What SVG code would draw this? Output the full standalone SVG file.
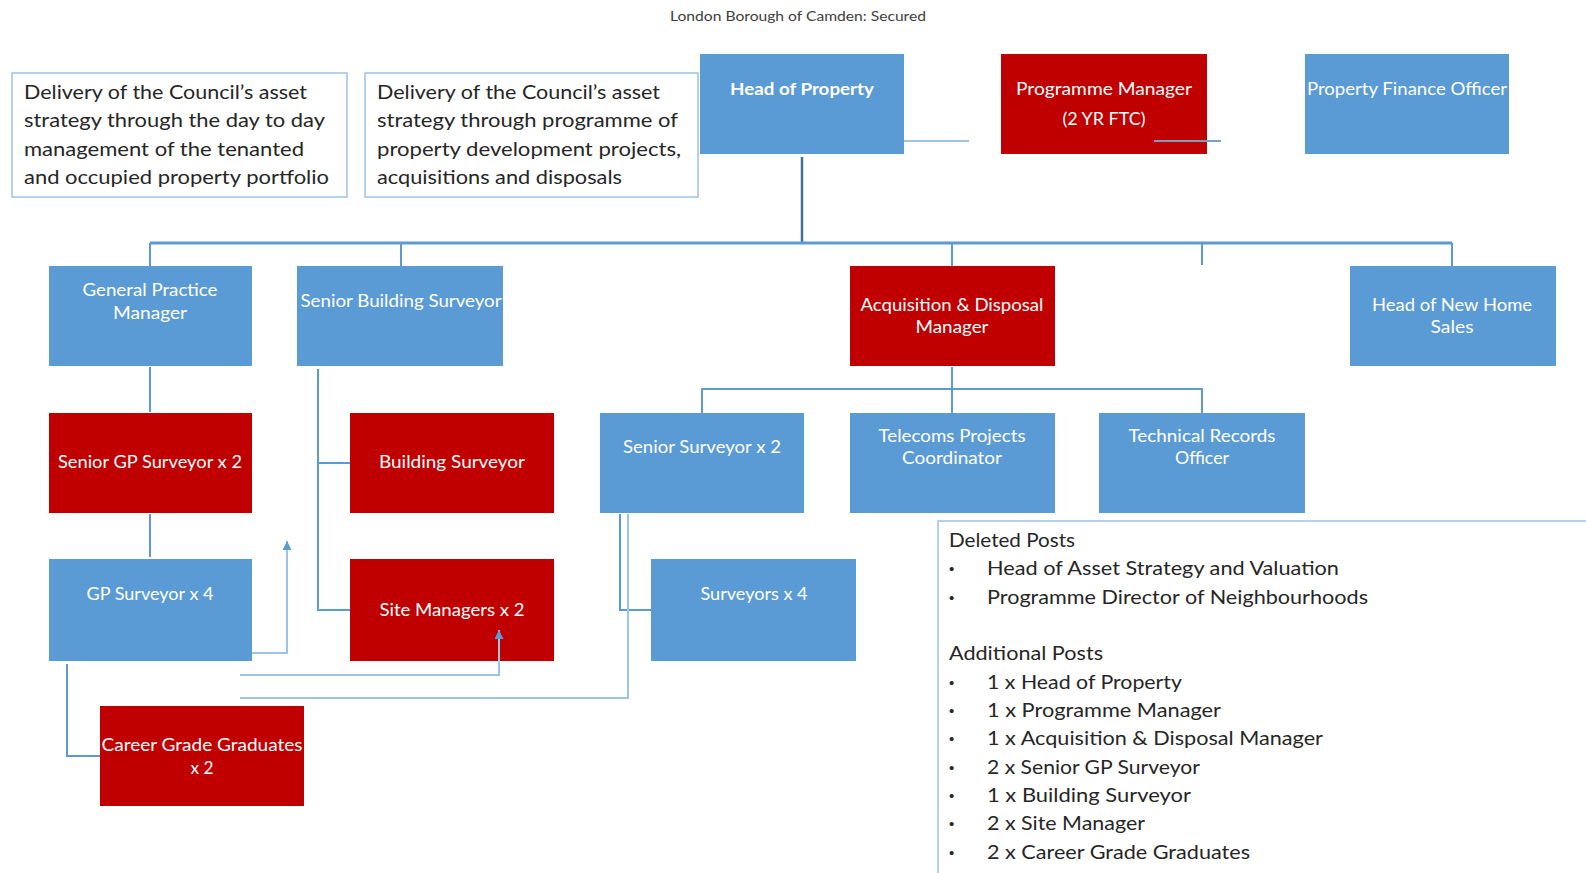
<svg xmlns="http://www.w3.org/2000/svg" width="1586" height="873" viewBox="0 0 1586 873">
<style>
.bl{fill:#5B9BD5}
.rd{fill:#C00000}
.lb{font-family:Lato,"Liberation Sans",sans-serif;font-size:17px;fill:#fff;text-anchor:middle}
.tb{fill:#fff;stroke:#9DC3E6;stroke-width:1.5}
.tx{font-family:Lato,"Liberation Sans",sans-serif;font-size:20px;fill:#262626}
.bu{font-family:"Liberation Sans",sans-serif;font-size:15px;fill:#262626}
.ti{font-family:Lato,"Liberation Sans",sans-serif;font-size:14px;fill:#404040;text-anchor:middle}
.c{fill:none;stroke:#5B9BD5;stroke-width:2}
.cl{fill:none;stroke:#9DC3E6;stroke-width:2}
.cd{fill:none;stroke:#41719C;stroke-width:2.5}
</style>
<defs>
<marker id="ah" viewBox="0 0 10 10" refX="10" refY="5" markerWidth="9" markerHeight="9" markerUnits="userSpaceOnUse" orient="auto">
<path d="M0,0 L10,5 L0,10 Z" fill="#5B9BD5"/>
</marker>
</defs>
<rect width="1586" height="873" fill="#fff"/>
<text class="ti" x="798" y="21" textLength="256" lengthAdjust="spacingAndGlyphs">London Borough of Camden: Secured</text>

<g id="note-left">
<rect class="tb" x="12" y="73" width="335" height="124"/>
<text class="tx" x="24" y="99" textLength="283" lengthAdjust="spacingAndGlyphs">Delivery  of the Council’s asset</text>
<text class="tx" x="24" y="127" textLength="301" lengthAdjust="spacingAndGlyphs">strategy through the day to day</text>
<text class="tx" x="24" y="156" textLength="280" lengthAdjust="spacingAndGlyphs">management  of the tenanted</text>
<text class="tx" x="24" y="184" textLength="305" lengthAdjust="spacingAndGlyphs">and occupied property portfolio</text>
</g>

<g id="note-mid">
<rect class="tb" x="365" y="73" width="333" height="124"/>
<text class="tx" x="377" y="99" textLength="283" lengthAdjust="spacingAndGlyphs">Delivery  of the Council’s asset</text>
<text class="tx" x="377" y="127" textLength="301" lengthAdjust="spacingAndGlyphs">strategy through programme of</text>
<text class="tx" x="377" y="156" textLength="304" lengthAdjust="spacingAndGlyphs">property development  projects,</text>
<text class="tx" x="377" y="184" textLength="245" lengthAdjust="spacingAndGlyphs">acquisitions  and disposals</text>
</g>

<g id="head-of-property">
<rect class="bl" x="700" y="54" width="204" height="100"/>
<text class="lb" x="802" y="95" font-weight="bold" textLength="144" lengthAdjust="spacingAndGlyphs">Head of Property</text>
</g>
<g id="programme-manager">
<rect class="rd" x="1001" y="54" width="206" height="100"/>
<text class="lb" x="1104" y="95" textLength="176" lengthAdjust="spacingAndGlyphs">Programme Manager</text>
<text class="lb" x="1104" y="125" textLength="83" lengthAdjust="spacingAndGlyphs">(2 YR FTC)</text>
</g>
<g id="property-finance-officer">
<rect class="bl" x="1305" y="54" width="204" height="100"/>
<text class="lb" x="1407" y="95" textLength="200" lengthAdjust="spacingAndGlyphs">Property Finance Officer</text>
</g>

<g id="general-practice-manager">
<rect class="bl" x="49" y="266" width="203" height="100"/>
<text class="lb" x="150" y="296" textLength="135" lengthAdjust="spacingAndGlyphs">General Practice</text>
<text class="lb" x="150" y="319" textLength="74" lengthAdjust="spacingAndGlyphs">Manager</text>
</g>
<g id="senior-building-surveyor">
<rect class="bl" x="297" y="266" width="206" height="100"/>
<text class="lb" x="401" y="307" textLength="201" lengthAdjust="spacingAndGlyphs">Senior Building Surveyor</text>
</g>
<g id="acquisition-disposal-manager">
<rect class="rd" x="850" y="266" width="205" height="100"/>
<text class="lb" x="952" y="311" textLength="183" lengthAdjust="spacingAndGlyphs">Acquisition &amp; Disposal</text>
<text class="lb" x="952" y="333" textLength="73" lengthAdjust="spacingAndGlyphs">Manager</text>
</g>
<g id="head-of-new-home-sales">
<rect class="bl" x="1350" y="266" width="206" height="100"/>
<text class="lb" x="1452" y="311" textLength="160" lengthAdjust="spacingAndGlyphs">Head of New Home</text>
<text class="lb" x="1452" y="333" textLength="43" lengthAdjust="spacingAndGlyphs">Sales</text>
</g>

<g id="senior-gp-surveyor">
<rect class="rd" x="49" y="413" width="203" height="100"/>
<text class="lb" x="150" y="468" textLength="184" lengthAdjust="spacingAndGlyphs">Senior GP Surveyor x 2</text>
</g>
<g id="building-surveyor">
<rect class="rd" x="350" y="413" width="204" height="100"/>
<text class="lb" x="452" y="468" textLength="146" lengthAdjust="spacingAndGlyphs">Building Surveyor</text>
</g>
<g id="senior-surveyor">
<rect class="bl" x="600" y="413" width="204" height="100"/>
<text class="lb" x="702" y="453" textLength="158" lengthAdjust="spacingAndGlyphs">Senior Surveyor x 2</text>
</g>
<g id="telecoms-projects-coordinator">
<rect class="bl" x="850" y="413" width="205" height="100"/>
<text class="lb" x="952" y="442" textLength="147" lengthAdjust="spacingAndGlyphs">Telecoms Projects</text>
<text class="lb" x="952" y="464" textLength="100" lengthAdjust="spacingAndGlyphs">Coordinator</text>
</g>
<g id="technical-records-officer">
<rect class="bl" x="1099" y="413" width="206" height="100"/>
<text class="lb" x="1202" y="442" textLength="147" lengthAdjust="spacingAndGlyphs">Technical Records</text>
<text class="lb" x="1202" y="464" textLength="54" lengthAdjust="spacingAndGlyphs">Officer</text>
</g>

<g id="gp-surveyor">
<rect class="bl" x="49" y="559" width="203" height="102"/>
<text class="lb" x="150" y="600" textLength="127" lengthAdjust="spacingAndGlyphs">GP Surveyor x 4</text>
</g>
<g id="site-managers">
<rect class="rd" x="350" y="559" width="204" height="102"/>
<text class="lb" x="452" y="616" textLength="145" lengthAdjust="spacingAndGlyphs">Site Managers x 2</text>
</g>
<g id="surveyors">
<rect class="bl" x="651" y="559" width="205" height="102"/>
<text class="lb" x="754" y="600" textLength="107" lengthAdjust="spacingAndGlyphs">Surveyors x 4</text>
</g>
<g id="career-grade-graduates">
<rect class="rd" x="100" y="706" width="204" height="100"/>
<text class="lb" x="202" y="751" textLength="201" lengthAdjust="spacingAndGlyphs">Career Grade Graduates</text>
<text class="lb" x="202" y="774" textLength="23" lengthAdjust="spacingAndGlyphs">x 2</text>
</g>

<g id="posts-note">
<path d="M938,873 V521 H1586" fill="none" stroke="#9DC3E6" stroke-width="1.5"/>
<text class="tx" x="949" y="547" textLength="126" lengthAdjust="spacingAndGlyphs">Deleted Posts</text>
<text class="bu" x="949" y="574">•</text>
<text class="tx" x="987" y="575" textLength="352" lengthAdjust="spacingAndGlyphs">Head of Asset Strategy and Valuation</text>
<text class="bu" x="949" y="603">•</text>
<text class="tx" x="987" y="604" textLength="381" lengthAdjust="spacingAndGlyphs">Programme Director of Neighbourhoods</text>
<text class="tx" x="949" y="660" textLength="154" lengthAdjust="spacingAndGlyphs">Additional Posts</text>
<text class="bu" x="949" y="688">•</text>
<text class="tx" x="987" y="689" textLength="195" lengthAdjust="spacingAndGlyphs">1 x Head of Property</text>
<text class="bu" x="949" y="716">•</text>
<text class="tx" x="987" y="717" textLength="234" lengthAdjust="spacingAndGlyphs">1 x Programme  Manager</text>
<text class="bu" x="949" y="744">•</text>
<text class="tx" x="987" y="745" textLength="336" lengthAdjust="spacingAndGlyphs">1 x Acquisition  &amp; Disposal Manager</text>
<text class="bu" x="949" y="773">•</text>
<text class="tx" x="987" y="774" textLength="213" lengthAdjust="spacingAndGlyphs">2 x Senior GP Surveyor</text>
<text class="bu" x="949" y="801">•</text>
<text class="tx" x="987" y="802" textLength="204" lengthAdjust="spacingAndGlyphs">1  x Building Surveyor</text>
<text class="bu" x="949" y="829">•</text>
<text class="tx" x="987" y="830" textLength="158" lengthAdjust="spacingAndGlyphs">2 x Site Manager</text>
<text class="bu" x="949" y="858">•</text>
<text class="tx" x="987" y="859" textLength="263" lengthAdjust="spacingAndGlyphs">2 x Career  Grade Graduates</text>
</g>

<g id="connectors">
<path class="cl" d="M904,141 H969"/>
<path d="M1154,141 H1221" fill="none" stroke="#7F9DBF" stroke-width="2"/>
<path class="cd" d="M802,157 V243"/>
<path d="M150,243 H1452" fill="none" stroke="#5B9BD5" stroke-width="3"/>
<path class="c" d="M150,243 V266 M401,243 V266 M952,243 V266 M1202,243 V265 M1452,243 V266"/>
<path class="c" d="M150,367 V412 M150,514 V557"/>
<path class="c" d="M318,369 V610 H350 M318,463 H350"/>
<path class="c" d="M952,367 V413 M702,413 V389 H1202 V413"/>
<path class="c" d="M620,514 V610 H651"/>
<path class="cl" d="M628,514 V698 H240"/>
<path class="cl" d="M252,653 H287 V541" marker-end="url(#ah)"/>
<path class="cl" d="M240,675 H499 V630" marker-end="url(#ah)"/>
<path class="c" d="M67,664 V756 H100"/>
</g>
</svg>
